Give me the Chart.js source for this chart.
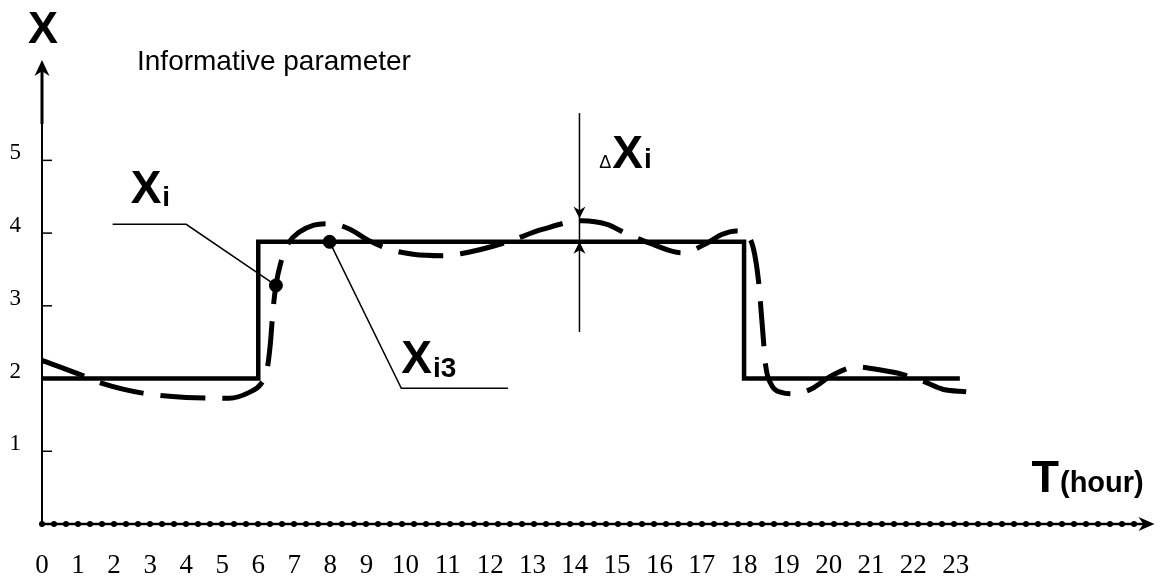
<!DOCTYPE html>
<html>
<head>
<meta charset="utf-8">
<script src="https://cdn.jsdelivr.net/npm/chart.js@4/dist/chart.umd.min.js"></script>
<style>
  html, body { margin: 0; padding: 0; background: #fff; }
</style>
</head>
<body>
<canvas id="chart" width="1162" height="578"></canvas>
<script>
// axis ticks
const hourTicks = [0, 1, 2, 3, 4, 5, 6, 7, 8, 9, 10, 11, 12, 13, 14, 15, 16, 17, 18, 19, 20, 21, 22, 23];
const hourLabels = ['0', '1', '2', '3', '4', '5', '6', '7', '8', '9', '10', '11',
                    '12', '13', '14', '15', '16', '17', '18', '19', '20', '21', '22', '23'];
const valueTicks = [1, 2, 3, 4, 5];
const valueLabels = ['1', '2', '3', '4', '5'];

// nominal value Xi (step)
const stepHours = [0, 6, 18, 23.1];
const stepValues = [2, 3.88, 2, 2];

// measured value (dashed)
const measuredHours = [0, 1.13, 1.69, 2.79, 4.0, 5.19, 5.75, 6.08, 6.24, 6.33, 6.41, 6.49, 6.63,
  6.85, 7.13, 7.54, 7.96, 8.51, 9.06, 9.6, 10.18, 10.88, 11.59, 12.41, 13.23, 14.17, 14.76,
  15.23, 15.82, 16.53, 17.12, 17.47, 17.82, 18.06, 18.22, 18.34, 18.44, 18.51, 18.65, 18.88,
  19.17, 19.6, 20.07, 20.66, 21.2, 21.72, 22.24, 22.71, 23.25];
const measuredValues = [2.25, 2.04, 1.93, 1.80, 1.74, 1.73, 1.81, 1.93, 2.11, 2.45, 2.94, 3.28, 3.6,
  3.87, 4.01, 4.11, 4.13, 4.06, 3.9, 3.78, 3.71, 3.69, 3.75, 3.88, 4.05, 4.17, 4.12,
  3.99, 3.85, 3.73, 3.86, 3.98, 4.03, 3.98, 3.79, 3.35, 2.66, 2.18, 1.91, 1.81,
  1.79, 1.86, 2.04, 2.16, 2.12, 2.06, 1.96, 1.85, 1.82];

// marked points Xi and Xi3
const markerHours = [6.49, 7.98];
const markerValues = [3.28, 3.88];

// annotation anchors, in (hour, value)
const xiLeader = [[1.96, 4.12], [4.0, 4.12], [6.49, 3.28]];
const xi3Leader = [[7.98, 3.88], [9.9, 1.865], [12.42, 1.865]];
const deltaHour = 14.11;
const deltaSpan = [5.65, 2.64];
const deltaTips = [4.2, 3.88];


// the hour labels in the drawing were typed as text, so two-digit hours sit wider apart
class WarpedScale extends Chart.LinearScale {
  warp(v) {
    const w = this.options.warp;
    return v <= w.split ? v : w.split + (v - w.split) * w.stretch;
  }
  getPixelForValue(value) {
    const a = this.warp(this.min), b = this.warp(this.max);
    return this.getPixelForDecimal((this.warp(value) - a) / (b - a));
  }
  getValueForPixel(pixel) {
    const w = this.options.warp;
    const a = this.warp(this.min), b = this.warp(this.max);
    const u = a + this.getDecimalForPixel(pixel) * (b - a);
    return u <= w.split ? u : w.split + (u - w.split) / w.stretch;
  }
}
WarpedScale.id = 'warped';
WarpedScale.defaults = Chart.LinearScale.defaults;
Chart.register(WarpedScale);


function line(ctx, pts) {
  ctx.beginPath();
  ctx.moveTo(pts[0][0], pts[0][1]);
  for (const p of pts.slice(1)) ctx.lineTo(p[0], p[1]);
  ctx.stroke();
}

// stealth arrow head, tip at (x, y), pointing along angle
function arrowHead(ctx, x, y, angle, len, half) {
  ctx.save();
  ctx.translate(x, y);
  ctx.rotate(angle);
  ctx.beginPath();
  ctx.moveTo(0, 0);
  ctx.lineTo(-len, -half);
  ctx.lineTo(-len * 0.7, 0);
  ctx.lineTo(-len, half);
  ctx.closePath();
  ctx.fill();
  ctx.restore();
}

function subText(ctx, x, y, main, sub, mainFont, subFont, drop) {
  ctx.font = mainFont;
  ctx.fillText(main, x, y);
  const w = ctx.measureText(main).width;
  ctx.font = subFont;
  ctx.fillText(sub, x + w + 1, y + drop);
}


const sketchAxes = {
  id: 'sketchAxes',
  beforeDatasetsDraw(chart) {
    const { ctx, chartArea: a, scales: { y } } = chart;
    ctx.save();
    ctx.strokeStyle = '#000';
    ctx.fillStyle = '#000';

    ctx.lineWidth = 2;
    line(ctx, [[a.left, a.bottom], [a.left, a.top + 8]]);
    ctx.lineWidth = 3;
    line(ctx, [[a.left, y.getPixelForValue(5.5)], [a.left, a.top + 8]]);
    arrowHead(ctx, a.left, a.top, -Math.PI / 2, 16, 7.5);

    ctx.lineWidth = 1.5;
    for (const v of valueTicks) {
      const py = y.getPixelForValue(v);
      line(ctx, [[a.left, py], [a.left + 10, py]]);
    }

    ctx.lineWidth = 2.5;
    line(ctx, [[a.left, a.bottom], [a.right - 8, a.bottom]]);
    ctx.setLineDash([0, 12]);
    ctx.lineCap = 'round';
    ctx.lineWidth = 6;
    line(ctx, [[a.left, a.bottom], [a.right - 14, a.bottom]]);
    ctx.setLineDash([]);
    arrowHead(ctx, a.right, a.bottom, 0, 16, 7);
    ctx.restore();
  },

  afterDatasetsDraw(chart) {
    const { ctx, chartArea: a, scales: { x, y } } = chart;
    const px = p => [x.getPixelForValue(p[0]), y.getPixelForValue(p[1])];
    ctx.save();
    ctx.strokeStyle = '#000';
    ctx.fillStyle = '#000';
    ctx.lineWidth = 1.5;
    line(ctx, xiLeader.map(px));
    line(ctx, xi3Leader.map(px));

    const dx = x.getPixelForValue(deltaHour);
    line(ctx, [[dx, y.getPixelForValue(deltaSpan[0])], [dx, y.getPixelForValue(deltaSpan[1])]]);
    arrowHead(ctx, dx, y.getPixelForValue(deltaTips[0]), Math.PI / 2, 12, 6);
    arrowHead(ctx, dx, y.getPixelForValue(deltaTips[1]), -Math.PI / 2, 12, 6);

    ctx.textBaseline = 'alphabetic';
    ctx.textAlign = 'center';
    ctx.font = 'bold 45px "Liberation Sans"';
    ctx.fillText('X', a.left + 1, a.top - 17);
    ctx.textAlign = 'left';
    ctx.font = '28px "Liberation Sans"';
    ctx.fillText('Informative parameter', a.left + 95, a.top + 10);

    const xi = px([2.46, 4.42]);
    subText(ctx, xi[0], xi[1], 'X', 'i', 'bold 46px "Liberation Sans"', 'bold 28px "Liberation Sans"', 3);
    const xi3 = px([9.9, 2.07]);
    subText(ctx, xi3[0], xi3[1], 'X', 'i3', 'bold 46px "Liberation Sans"', 'bold 28px "Liberation Sans"', 4);

    const d = px([14.58, 4.9]);
    ctx.font = '18px "Liberation Sans"';
    ctx.fillText('\u0394', d[0], d[1]);
    const dw = ctx.measureText('\u0394').width;
    subText(ctx, d[0] + dw + 1, d[1], 'X', 'i', 'bold 46px "Liberation Sans"', 'bold 28px "Liberation Sans"', 0);

    subText(ctx, a.right - 123, a.bottom - 32, 'T', '(hour)', 'bold 45px "Liberation Sans"', 'bold 29px "Liberation Sans"', 0);
    ctx.restore();
  }
};


function toPoints(xs, ys) {
  return xs.map((h, i) => ({ x: h, y: ys[i] }));
}

new Chart(document.getElementById('chart'), {
  type: 'line',
  data: {
    datasets: [
      {
        label: 'Xi',
        data: toPoints(stepHours, stepValues),
        stepped: 'before',
        borderColor: '#000',
        borderWidth: 4.5,
        pointRadius: 0,
        clip: false,
      },
      {
        label: 'measured',
        data: toPoints(measuredHours, measuredValues),
        borderColor: '#000',
        borderWidth: 5,
        borderDash: [45, 17],
        cubicInterpolationMode: 'monotone',
        pointRadius: 0,
        clip: false,
      },
      {
        label: 'marks',
        data: toPoints(markerHours, markerValues),
        showLine: false,
        pointRadius: 6.5,
        pointBackgroundColor: '#000',
        pointBorderColor: '#000',
        clip: false,
      },
    ]
  },
  options: {
    responsive: false,
    animation: false,
    events: [],
    layout: { padding: { top: 60, right: 2, left: 0, bottom: 0 } },
    plugins: { legend: { display: false }, tooltip: { enabled: false } },
    scales: {
      x: {
        type: 'warped',
        warp: { split: 9.5, stretch: 1.174 },
        min: 0,
        max: 27.7,
        grid: { display: false, drawTicks: false },
        border: { display: false },
        afterBuildTicks: s => { s.ticks = hourTicks.map(v => ({ value: v })); },
        afterFit: s => { s.height = 54; },
        ticks: {
          autoSkip: false,
          maxRotation: 0,
          padding: 26,
          color: '#000',
          font: { family: '"Liberation Serif"', size: 27 },
          callback: (v, i) => hourLabels[i],
        },
      },
      y: {
        min: 0,
        max: 6.38,
        grid: { display: false, drawTicks: false },
        border: { display: false },
        afterBuildTicks: s => { s.ticks = valueTicks.map(v => ({ value: v })); },
        afterFit: s => { s.width = 42; },
        ticks: {
          padding: 21,
          labelOffset: -7,
          color: '#000',
          font: { family: '"Liberation Serif"', size: 23 },
          callback: (v, i) => valueLabels[i],
        },
      },
    },
  },
  plugins: [sketchAxes],
});
</script>
</body>
</html>
